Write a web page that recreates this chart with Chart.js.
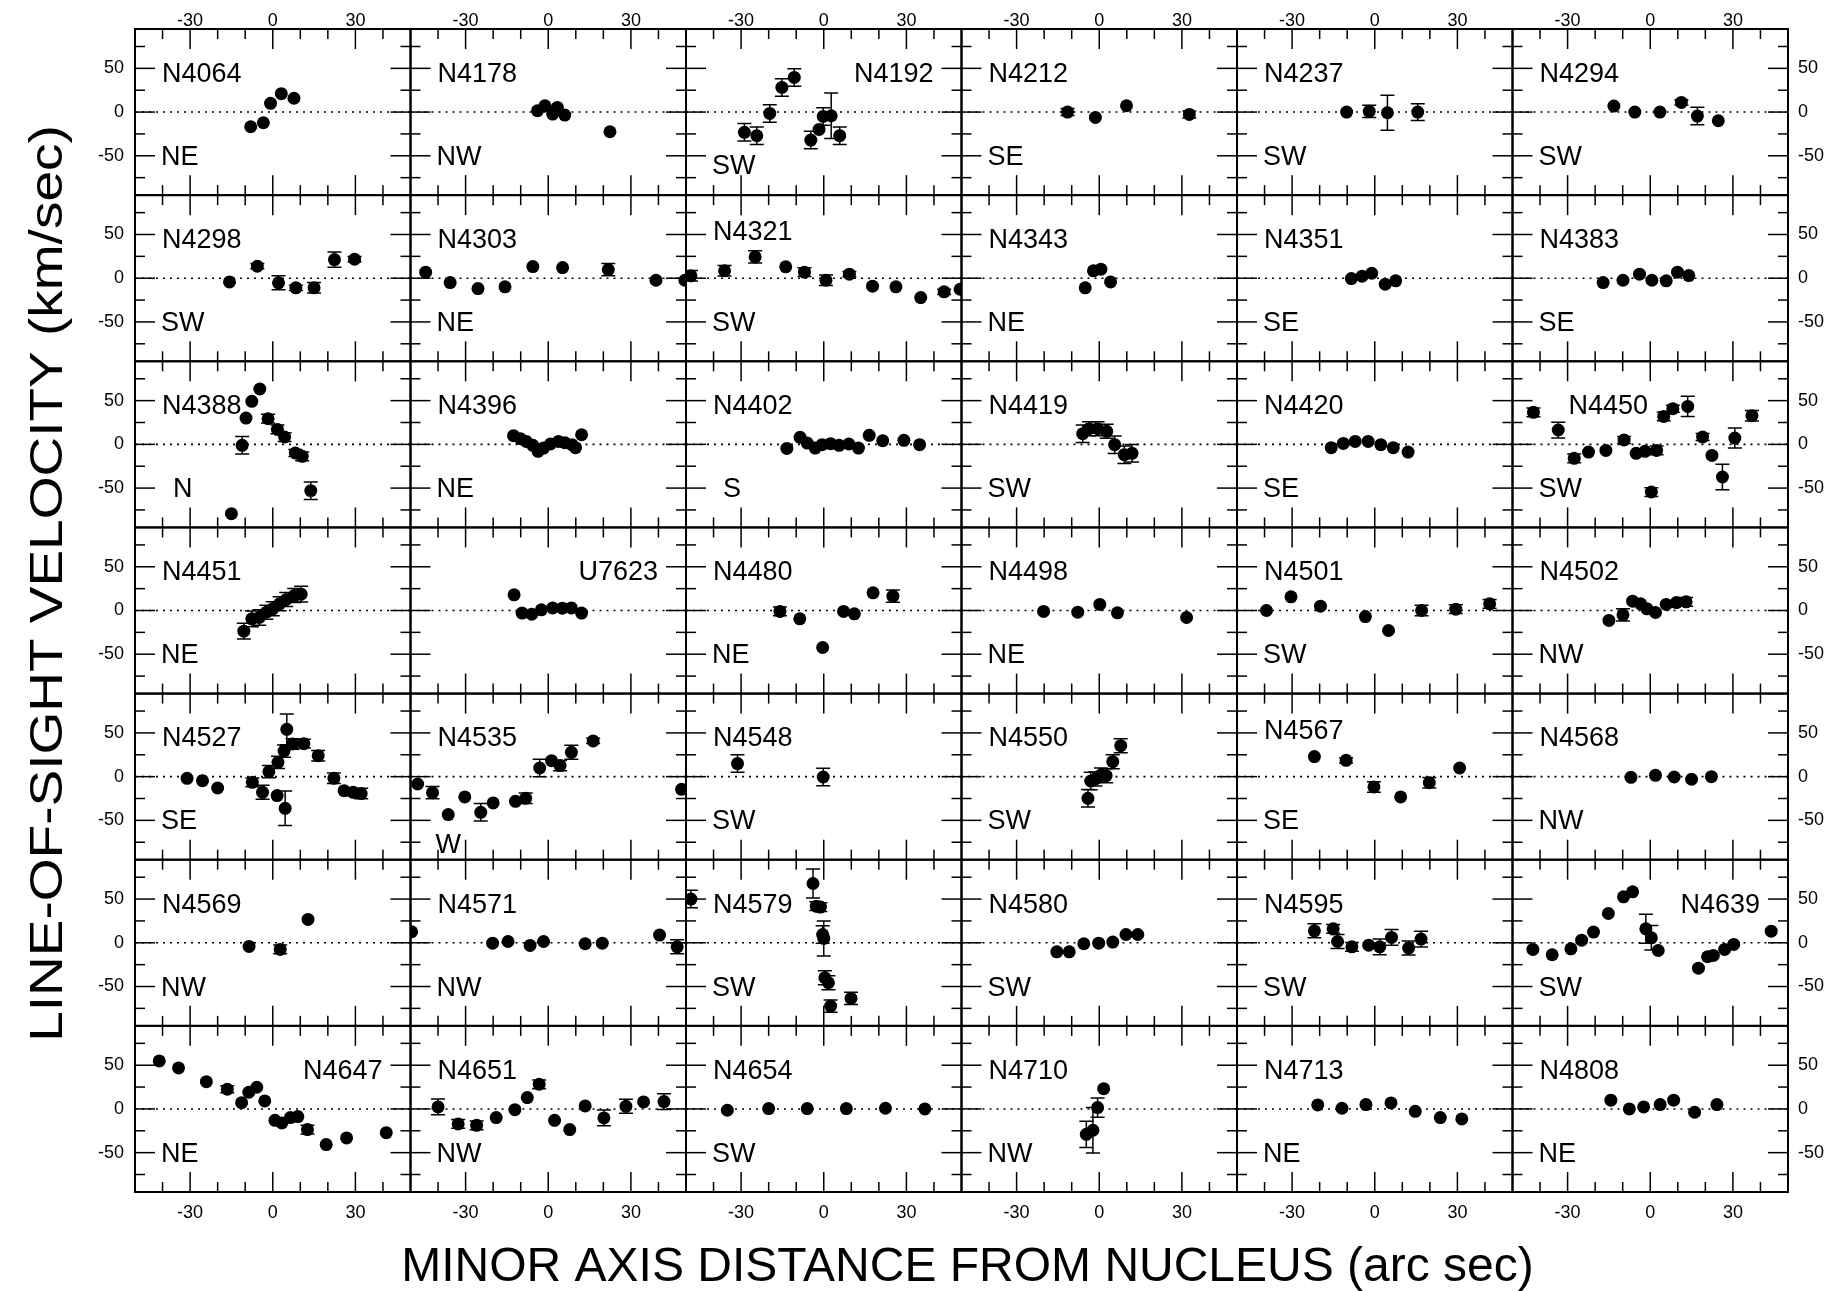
<!DOCTYPE html>
<html>
<head>
<meta charset="utf-8">
<title>Minor axis velocity profiles</title>
<script src="https://cdn.jsdelivr.net/npm/chart.js@4.4.1/dist/chart.umd.min.js"></script>
<style>
  html, body { margin: 0; padding: 0; background: #fff; }
  #chart { display: block; }
</style>
</head>
<body>
<canvas id="chart" width="1834" height="1291"></canvas>
<script>
// Galaxies, left to right then top to bottom (6 per row)
const galaxies = [
    'N4064', 'N4178', 'N4192', 'N4212', 'N4237', 'N4294',
    'N4298', 'N4303', 'N4321', 'N4343', 'N4351', 'N4383',
    'N4388', 'N4396', 'N4402', 'N4419', 'N4420', 'N4450',
    'N4451', 'U7623', 'N4480', 'N4498', 'N4501', 'N4502',
    'N4527', 'N4535', 'N4548', 'N4550', 'N4567', 'N4568',
    'N4569', 'N4571', 'N4579', 'N4580', 'N4595', 'N4639',
    'N4647', 'N4651', 'N4654', 'N4710', 'N4713', 'N4808'
];

// side of the minor axis at negative offsets
const sides = [
    'NE', 'NW', 'SW', 'SE', 'SW', 'SW',
    'SW', 'NE', 'SW', 'NE', 'SE', 'SE',
    'N',  'NE', 'S',  'SW', 'SE', 'SW',
    'NE', '',   'NE', 'NE', 'SW', 'NW',
    'SE', 'W',  'SW', 'SW', 'SE', 'NW',
    'NW', 'NW', 'SW', 'SW', 'SW', 'SW',
    'NE', 'NW', 'SW', 'NW', 'NE', 'NE'
];

// [offset (arcsec), velocity (km/s), error (km/s)]
const n4064 = [[-8.0, -16.8, 0], [-3.4, -12.2, 0], [-0.8, 10, 0], [3.1, 21, 0], [7.7, 15.8, 0]];
const n4178 = [[-3.9, 1.5, 0], [-1.2, 7.2, 0], [1.6, -2.3, 0], [3.3, 5.3, 0], [6.0, -3.4, 0], [22.4, -22.5, 0]];
const n4192 = [[-28.8, -23.2, 10], [-24.3, -27.1, 10], [-19.6, -1.5, 10], [-15.2, 28.2, 10], [-10.7, 39.6, 10],
    [-4.7, -32, 10], [-1.7, -19.8, 0], [-0.2, -5, 10], [2.7, -4.2, 26], [5.8, -27, 10]];
const n4212 = [[-11.5, 0, 4], [-1.4, -6.1, 0], [9.9, 7.2, 0], [32.7, -2.7, 4]];
const n4237 = [[-10.2, 0, 0], [-2.0, 0.8, 7], [4.6, -0.8, 20], [15.6, 0, 9.5]];
const n4294 = [[-13.2, 6.9, 0], [-5.6, 0, 0], [3.5, 0, 0], [11.3, 11, 3], [17.1, -4.6, 10], [24.7, -9.9, 0]];

const n4298 = [[-15.7, -4.2, 0], [-5.6, 13.7, 3], [2.1, -5.3, 8], [8.4, -11, 3], [15.0, -11, 6], [22.4, 21.3, 8.8], [29.7, 21.7, 3]];
const n4303 = [[-44.5, 6.9, 0], [-35.6, -5, 0], [-25.5, -11.8, 0], [-15.7, -9.9, 0], [-5.6, 13.3, 0], [5.2, 12.2, 0],
    [21.8, 9.9, 7], [39.1, -2.3, 0], [49.6, -2.3, 0]];
const n4321 = [[-48.2, 2.7, 6], [-36, 8.4, 6], [-24.9, 24.4, 7], [-13.8, 13, 0], [-7, 6.9, 5], [0.8, -2.3, 6],
    [9.3, 4.6, 3], [17.7, -9.1, 0], [26.2, -9.9, 0], [35.2, -22.1, 0], [43.7, -15.6, 3], [49.5, -12.6, 0]];
const n4343 = [[-5.1, -11, 0], [-2.1, 8.4, 0], [0.6, 10.3, 0], [4.1, -4.2, 0]];
const n4351 = [[-8.5, -0.4, 0], [-4.6, 2.3, 0], [-1.1, 5.7, 0], [3.8, -6.9, 0], [7.6, -3, 0]];
const n4383 = [[-17.1, -5, 0], [-9.9, -2.3, 0], [-3.9, 4.6, 0], [0.6, -2.3, 0], [5.8, -3, 0], [9.9, 6.9, 0], [14, 3, 0]];

const n4388 = [[-15, -79.3, 0], [-11.1, -1.1, 10], [-9.7, 30.1, 0], [-7.6, 49.2, 0], [-4.7, 63.3, 0], [-1.7, 29.3, 5],
    [1.7, 17.1, 5], [4.3, 8.4, 5], [8.2, -9.9, 4], [10.7, -13.7, 5], [13.8, -53, 10]];
const n4396 = [[-12.6, 9.9, 0], [-10.1, 6.5, 0], [-8, 3.4, 0], [-5.6, -1.1, 0], [-3.7, -8, 0], [-1.7, -4.2, 0],
    [0.8, 0.4, 0], [3.7, 3.4, 0], [6, 1.9, 0], [8.6, -0.4, 0], [9.9, -3.8, 0], [12.1, 11, 0]];
const n4402 = [[-13.4, -4.6, 0], [-8.6, 8, 0], [-6, 1.5, 0], [-3.1, -4.2, 0], [-0.6, -0.4, 0], [2.5, 0.8, 0], [5.6, -1.1, 0],
    [9.1, 0.4, 0], [12.6, -4.2, 0], [16.5, 10.3, 0], [21.4, 4.2, 0], [29.1, 4.6, 0], [34.8, -0.4, 0]];
const n4419 = [[-6, 12.2, 10], [-3.7, 17.9, 8], [-0.6, 17.9, 8], [2.7, 14.9, 8], [5.6, -0.4, 10], [9.1, -11.8, 10], [11.9, -10.3, 10]];
const n4420 = [[-15.8, -3.8, 0], [-11.4, 1.1, 0], [-7.1, 3.4, 0], [-2.4, 3.4, 0], [2.2, -0.4, 0], [6.7, -3.8, 0], [12.1, -8.8, 0]];
const n4450 = [[-42.4, 36.6, 5], [-33.4, 16.4, 9], [-27.6, -16, 5], [-22.4, -8.8, 0], [-16.1, -6.9, 0], [-9.5, 5, 4],
    [-5.1, -10.3, 0], [-1.9, -8, 0], [0.4, -54.5, 5], [2.3, -6.9, 5], [4.9, 32, 5], [8.2, 40.8, 4], [13.6, 43.4, 11.5],
    [19, 8.4, 4], [22.4, -12.6, 0], [26.2, -37.3, 14.5], [30.7, 7.2, 11.5], [36.9, 32.8, 6]];

const n4451 = [[-10.5, -23.6, 9], [-7.6, -9.5, 9], [-4.9, -8, 9], [-2.3, -1.9, 8], [0, 1.9, 8], [2.5, 7.6, 8],
    [4.9, 12.6, 8], [7.8, 17.1, 8], [10.3, 18.7, 9]];
const u7623 = [[-12.4, 17.9, 0], [-9.5, -3, 0], [-6, -4.2, 0], [-2.5, 0.8, 0], [1.6, 3, 0], [5.1, 2.7, 0], [8.4, 3, 0], [12.1, -3, 0]];
const n4480 = [[-15.9, -1.1, 5], [-8.7, -9.5, 0], [-0.4, -42.3, 0], [7.2, -1.1, 0], [11.1, -3.8, 0], [17.9, 20.2, 0], [25.1, 16.4, 7]];
const n4498 = [[-20.2, -1.1, 0], [-7.8, -1.9, 0], [0.2, 6.9, 0], [6.6, -2.7, 0], [31.7, -8, 0]];
const n4501 = [[-39.3, 0, 0], [-30.4, 15.6, 0], [-19.7, 5, 0], [-3.4, -6.9, 0], [5, -22.9, 0], [17, 0, 6], [29.4, 1.5, 5], [41.7, 7.6, 5]];
const n4502 = [[-15, -11.4, 0], [-9.9, -5, 7], [-6.4, 10.7, 0], [-3.5, 7.6, 0], [-1.2, 1.9, 0], [1.9, -2.3, 0],
    [5.8, 6.9, 0], [9.5, 9.1, 0], [13, 9.9, 5]];

const n4527 = [[-31.1, -1.9, 0], [-25.5, -4.6, 0], [-20, -13, 0], [-7.4, -6.5, 5], [-3.7, -17.9, 8], [-1.4, 5.7, 7],
    [1.6, -21.7, 0], [1.9, 16.4, 7], [4.1, 29.3, 7], [4.5, -36.2, 19.8], [5.1, 54.1, 17.5], [7.2, 37.3, 6],
    [11.3, 37.7, 5], [16.5, 24, 6], [22.2, -1.9, 6], [25.9, -16, 0], [29.2, -17.9, 4], [32.1, -19.4, 6]];
const n4535 = [[-47.4, -8.4, 0], [-42, -18.3, 7], [-36.3, -43.4, 0], [-30.3, -23.2, 0], [-24.5, -40.8, 10], [-20, -30.1, 0],
    [-11.9, -28.2, 0], [-8.2, -24.8, 6], [-3.1, 9.9, 10], [1.2, 18.3, 0], [4.3, 12.6, 6], [8.4, 27.8, 8],
    [16.3, 40.8, 3], [48.4, -14.5, 0]];
const n4548 = [[-31.3, 14.9, 10], [-0.2, -0.4, 10]];
const n4550 = [[-4.1, -24.8, 10], [-3.1, -5, 10], [-1.4, -2.7, 8], [0.6, 1.9, 8], [2.5, 1.1, 8], [4.9, 17.1, 8], [7.8, 35.4, 8]];
const n4567 = [[-21.9, 22.9, 0], [-10.4, 18.7, 3], [-0.3, -11.8, 6], [9.4, -23.2, 0], [19.8, -6.9, 6], [30.8, 9.9, 0]];
const n4568 = [[-7, -0.8, 0], [1.9, 1.5, 0], [8.7, -0.4, 0], [15, -3, 0], [22.2, 0, 0]];

const n4569 = [[-8.6, -4.2, 0], [2.7, -7.6, 5], [12.8, 26.7, 0]];
const n4571 = [[-49.6, 12.6, 0], [-20.2, -0.4, 0], [-14.6, 1.5, 0], [-6.6, -3, 0], [-1.7, 1.5, 0], [13.4, -1.1, 0],
    [19.6, -0.4, 0], [40.4, 8.8, 0], [46.8, -4.6, 8]];
const n4579 = [[-48.2, 50, 10], [-3.9, 67.8, 16.6], [-2.7, 41.9, 5], [-1.2, 40.8, 5], [-0.4, 9.5, 10], [0, 5, 20],
    [0.4, -40, 8], [1.7, -45.7, 8], [2.5, -72.4, 7], [9.9, -63.6, 7]];
const n4580 = [[-15.4, -10.3, 0], [-10.9, -10.3, 0], [-5.6, -1.1, 0], [-0.2, -0.4, 0], [4.9, 0.8, 0], [9.7, 9.5, 0], [14, 9.5, 0]];
const n4595 = [[-21.9, 13.7, 8], [-15.1, 16, 5], [-13.5, 1.5, 8], [-8.3, -4.6, 5], [-2.2, -2.7, 0], [1.8, -4.6, 9],
    [6.1, 6.1, 9], [12.3, -6.1, 8], [16.8, 4.2, 9]];
const n4639 = [[-42.6, -7.6, 0], [-35.6, -13.7, 0], [-28.8, -6.9, 0], [-24.9, 3, 0], [-20.6, 12.2, 0], [-15.2, 33.5, 0],
    [-9.7, 52.6, 0], [-6.4, 58.3, 0], [-1.6, 16, 16.6], [0.4, 5.7, 14], [2.9, -8.8, 0], [17.5, -29, 0],
    [20.8, -16, 0], [22.9, -14.5, 0], [27, -7.6, 0], [30.3, -1.9, 0], [43.9, 13.3, 0]];

const n4647 = [[-41.2, 54.9, 0], [-34.2, 46.9, 0], [-24.1, 31.2, 0], [-16.5, 22.5, 4], [-11.3, 7.2, 0], [-8.7, 19.1, 0],
    [-5.8, 24.8, 0], [-2.9, 9.1, 0], [0.8, -13, 0], [3.3, -16, 0], [6.4, -9.9, 0], [9.1, -8.8, 0],
    [12.6, -23.6, 5], [19.4, -40.8, 0], [26.8, -33.2, 0], [41.2, -27.1, 0]];
const n4651 = [[-40, 2.3, 9], [-32.7, -17.1, 5], [-26, -18.7, 5], [-18.9, -9.9, 0], [-12.1, -0.8, 0], [-7.6, 13, 0],
    [-3.3, 28.2, 5], [2.3, -13, 0], [7.8, -23.6, 0], [13.4, 3.4, 0], [20.2, -10.3, 9], [28.2, 3, 8],
    [34.6, 8, 0], [42, 8.4, 9]];
const n4654 = [[-35, -1.5, 0], [-20, 0.4, 0], [-6, 0.4, 0], [8.2, 0.4, 0], [22.4, 0.8, 0], [36.7, 0, 0]];
const n4710 = [[-4.7, -29, 15], [-2.3, -24.4, 26], [-0.6, 1.5, 11], [1.6, 23.2, 0]];
const n4713 = [[-20.7, 4.6, 0], [-11.9, 0.8, 0], [-3.2, 5, 0], [5.9, 6.9, 0], [14.7, -2.7, 0], [23.8, -9.9, 0], [31.6, -11.4, 0]];
const n4808 = [[-14.3, 10, 0], [-7.6, 0, 0], [-2.4, 2.3, 0], [3.6, 5, 0], [8.5, 10, 0], [16.1, -3.8, 0], [24.2, 5, 0]];

const profiles = [
    n4064, n4178, n4192, n4212, n4237, n4294,
    n4298, n4303, n4321, n4343, n4351, n4383,
    n4388, n4396, n4402, n4419, n4420, n4450,
    n4451, u7623, n4480, n4498, n4501, n4502,
    n4527, n4535, n4548, n4550, n4567, n4568,
    n4569, n4571, n4579, n4580, n4595, n4639,
    n4647, n4651, n4654, n4710, n4713, n4808
];

const xTicks = [-30, 0, 30];
const xMinor = [-40, -20, -10, 10, 20, 40];
const yTicks = [-50, 0, 50];
const yMinor = [-75, -25, 25, 75];

const NCOLS = 6;
const NROWS = 7;
const FONT = "'Liberation Sans', Arial, Helvetica, sans-serif";

// names drawn at the top right instead of top left
const nameRight = ['N4192', 'U7623', 'N4639', 'N4647'];
// label tweaks: dx in px from the panel edge, y in km/s
const labelTweaks = {
    N4321: { nameY: 55 },
    N4567: { nameY: 55 },
    N4450: { nameDx: 56 },
    N4388: { sideDx: 38 },
    N4402: { sideDx: 37 },
    N4192: { sideY: -59 },
    N4535: { sideY: -76, sideDx: 25 }
};

function xScale(position, stack) {
    return {
        type: 'linear', axis: 'x', position, stack, min: -50, max: 50,
        grid: { display: false, drawTicks: false },
        border: { display: false },
        ticks: {
            font: { family: FONT, size: 18 }, color: '#000', maxRotation: 0, autoSkip: false,
            padding: position === 'top' ? -3 : 10,
            callback: v => String(v)
        },
        afterBuildTicks: s => { s.ticks = xTicks.map(v => ({ value: v })); },
        afterFit: s => { s.height = position === 'top' ? 29 : 99; }
    };
}

function yScale(position, stack) {
    return {
        type: 'linear', axis: 'y', position, stack, min: -95, max: 95,
        grid: { display: false, drawTicks: false },
        border: { display: false },
        ticks: {
            font: { family: FONT, size: 18 }, color: '#000',
            padding: position === 'left' ? 11 : 10,
            callback: v => String(v)
        },
        afterBuildTicks: s => { s.ticks = yTicks.map(v => ({ value: v })); },
        afterFit: s => { s.width = position === 'left' ? 135 : 46; }
    };
}

// stacked axes: left and top stacks are placed in reverse declaration order
const scales = {};
for (let c = 0; c < NCOLS; c++) scales['x' + c] = xScale('bottom', 'xb');
for (let c = NCOLS - 1; c >= 0; c--) scales['xt' + c] = xScale('top', 'xt');
for (let r = NROWS - 1; r >= 0; r--) scales['y' + r] = yScale('left', 'yl');
for (let r = 0; r < NROWS; r++) scales['yr' + r] = yScale('right', 'yr');

const datasets = profiles.map((pts, i) => ({
    label: galaxies[i],
    data: pts.map(p => ({ x: p[0], y: p[1] })),
    xAxisID: 'x' + (i % NCOLS),
    yAxisID: 'y' + Math.floor(i / NCOLS),
    backgroundColor: '#000',
    borderColor: '#000',
    borderWidth: 0,
    pointRadius: 6.5,
    pointHoverRadius: 6.5,
    showLine: false,
    clip: 0
}));

function panelBox(chart, i) {
    const xs = chart.scales['x' + (i % NCOLS)];
    const ys = chart.scales['y' + Math.floor(i / NCOLS)];
    return { xs, ys, left: xs.left, right: xs.right, top: ys.top, bottom: ys.bottom };
}

function line(ctx, x1, y1, x2, y2) {
    ctx.beginPath();
    ctx.moveTo(x1, y1);
    ctx.lineTo(x2, y2);
    ctx.stroke();
}

const panelPlugin = {
    id: 'panels',
    beforeDatasetsDraw(chart) {
        const ctx = chart.ctx;
        ctx.save();
        ctx.strokeStyle = '#000';
        galaxies.forEach((name, i) => {
            const p = panelBox(chart, i);
            // dotted zero-velocity line
            const y0 = p.ys.getPixelForValue(0);
            ctx.lineWidth = 1.6;
            ctx.setLineDash([2, 5]);
            line(ctx, p.left, y0, p.right, y0);
            ctx.setLineDash([]);

            // inward tick marks on all four sides
            ctx.lineWidth = 1.5;
            const xt = (vals, len) => vals.forEach(v => {
                const px = p.xs.getPixelForValue(v);
                line(ctx, px, p.top, px, p.top + len);
                line(ctx, px, p.bottom, px, p.bottom - len);
            });
            const yt = (vals, len) => vals.forEach(v => {
                const py = p.ys.getPixelForValue(v);
                line(ctx, p.left, py, p.left + len, py);
                line(ctx, p.right, py, p.right - len, py);
            });
            xt(xTicks, 20); xt(xMinor, 10);
            yt(yTicks, 20); yt(yMinor, 10);
        });
        ctx.restore();
    },
    afterDatasetsDraw(chart) {
        const ctx = chart.ctx;
        ctx.save();
        ctx.strokeStyle = '#000';
        ctx.fillStyle = '#000';
        galaxies.forEach((name, i) => {
            const p = panelBox(chart, i);

            // error bars, clipped to the panel
            ctx.save();
            ctx.beginPath();
            ctx.rect(p.left, p.top, p.right - p.left, p.bottom - p.top);
            ctx.clip();
            ctx.lineWidth = 1.5;
            profiles[i].forEach(([x, v, e]) => {
                if (!e) return;
                const px = p.xs.getPixelForValue(x);
                const hi = p.ys.getPixelForValue(v + e);
                const lo = p.ys.getPixelForValue(v - e);
                line(ctx, px, hi, px, lo);
                line(ctx, px - 7, hi, px + 7, hi);
                line(ctx, px - 7, lo, px + 7, lo);
            });
            ctx.restore();

            // frame
            ctx.lineWidth = 2;
            ctx.strokeRect(p.left, p.top, p.right - p.left, p.bottom - p.top);

            // galaxy name and side labels
            const t = labelTweaks[name] || {};
            ctx.font = `27px ${FONT}`;
            ctx.textBaseline = 'alphabetic';
            const ny = p.ys.getPixelForValue(t.nameY ?? 46) + 10;
            if (nameRight.includes(name)) {
                ctx.textAlign = 'right';
                ctx.fillText(name, p.right - 28, ny);
            } else {
                ctx.textAlign = 'left';
                ctx.fillText(name, p.left + (t.nameDx ?? 27), ny);
            }
            if (sides[i]) {
                ctx.textAlign = 'left';
                const sy = p.ys.getPixelForValue(t.sideY ?? -49) + 10;
                ctx.fillText(sides[i], p.left + (t.sideDx ?? 26), sy);
            }
        });
        ctx.restore();
    },
    afterDraw(chart) {
        const ctx = chart.ctx;
        const a = chart.chartArea;
        ctx.save();
        ctx.fillStyle = '#000';
        ctx.textAlign = 'center';
        ctx.textBaseline = 'alphabetic';
        ctx.font = `48px ${FONT}`;
        ctx.fillText('MINOR AXIS DISTANCE FROM NUCLEUS (arc sec)', (a.left + a.right) / 2 + 6, a.bottom + 89);

        ctx.translate(a.left - 73, (a.top + a.bottom) / 2 - 27);
        ctx.rotate(-Math.PI / 2);
        ctx.scale(1.17, 1);
        ctx.font = `47px ${FONT}`;
        ctx.fillText('LINE-OF-SIGHT VELOCITY (km/sec)', 0, 0);
        ctx.restore();
    }
};

new Chart(document.getElementById('chart'), {
    type: 'scatter',
    data: { datasets },
    options: {
        responsive: false,
        animation: false,
        devicePixelRatio: 1,
        events: [],
        layout: { padding: 0 },
        scales,
        plugins: {
            legend: { display: false },
            tooltip: { enabled: false }
        }
    },
    plugins: [panelPlugin]
});
</script>
</body>
</html>
